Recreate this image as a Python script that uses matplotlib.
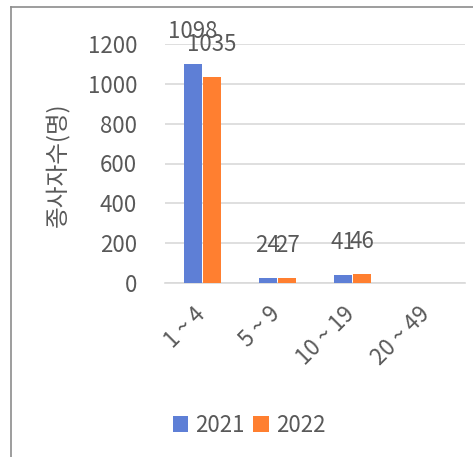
import matplotlib
matplotlib.use("Agg")
import matplotlib.pyplot as plt
import matplotlib.transforms as mtransforms
from matplotlib.lines import Line2D
import numpy as np

plt.rcParams['font.family'] = ['Noto Sans CJK KR', 'DejaVu Sans']

categories = ["1 ~ 4", "5 ~ 9", "10 ~ 19", "20 ~ 49"]
years = ["2021", "2022"]
values_2021 = [1098, 24, 41, np.nan]
values_2022 = [1035, 27, 46, np.nan]
yticks = [0, 200, 400, 600, 800, 1000, 1200]

colors = ["#5E7FD6", "#FF7F30"]
text_color = "#595959"
grid_color = "#D9D9D9"
fs = 16

fig = plt.figure(figsize=(4.73, 4.57), dpi=100)
ax = fig.add_axes([165 / 473, 1 - 283 / 457, 300 / 473, 239 / 457])

x = np.arange(len(categories))
width = 0.24
gap = 0.013
for i, (vals, col) in enumerate(zip([values_2021, values_2022], colors)):
    pos = x + (i - 0.5) * (width + gap)
    ax.bar(pos, vals, width, color=col, label=years[i], zorder=3)
    for xp, v in zip(pos, vals):
        if np.isnan(v):
            continue
        ax.annotate(f"{v:.0f}", (xp, v), xytext=(0, 21), textcoords="offset pixels",
                    ha="center", va="bottom", fontsize=fs, color=text_color,
                    annotation_clip=False)

ax.set_xlim(-0.5, len(categories) - 0.5)
ax.set_ylim(0, 1200)
ax.set_yticks(yticks)
ax.set_yticklabels([str(t) for t in yticks], fontsize=fs, color=text_color)
ax.set_xticks(x)
ax.set_xticklabels(categories, fontsize=fs, color=text_color, rotation=45,
                   ha="right", va="top", rotation_mode="anchor")
ax.tick_params(axis="both", length=0)
ax.tick_params(axis="y", pad=20)
ax.tick_params(axis="x", pad=14)
shift = mtransforms.ScaledTranslation(-9 / 100, 0, fig.dpi_scale_trans)
for lbl in ax.get_xticklabels():
    lbl.set_transform(lbl.get_transform() + shift)
ax.yaxis.grid(True, color=grid_color, linewidth=1.2, zorder=0)
ax.set_axisbelow(True)
for s in ["top", "right", "left"]:
    ax.spines[s].set_visible(False)
ax.spines["bottom"].set_color(grid_color)
ax.spines["bottom"].set_linewidth(1.2)

fig.text(58 / 473, 1 - 165 / 457, "종사자수(명)", rotation=90, ha="center", va="center",
         fontsize=17, color=text_color)

fig.legend(loc="center", bbox_to_anchor=(249 / 473, 1 - 425 / 457), ncol=2, frameon=False,
           fontsize=fs, handlelength=0.7, handleheight=0.7, handletextpad=0.3,
           columnspacing=0.4, labelcolor=text_color)

# outer frame (top and left only, as in the crop)
fig.add_artist(Line2D([11 / 473, 1], [1 - 7 / 457, 1 - 7 / 457], color="#8C8C8C", linewidth=1.2))
fig.add_artist(Line2D([11 / 473, 11 / 473], [0, 1 - 7 / 457], color="#8C8C8C", linewidth=1.2))

fig.savefig("out.png", dpi=100)
